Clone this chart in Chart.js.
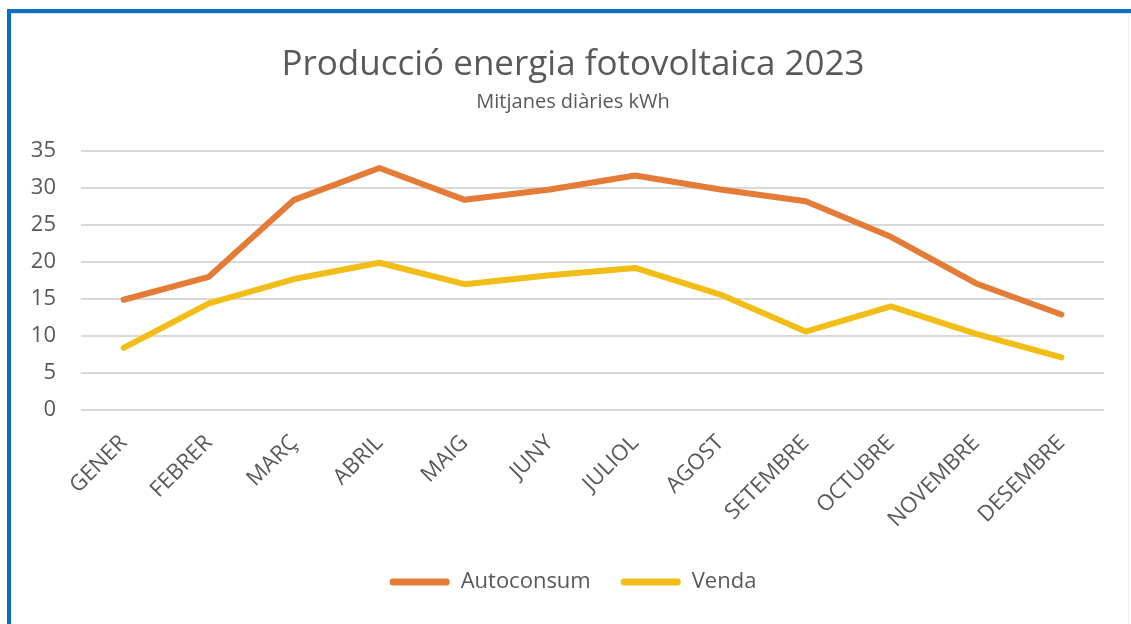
<!DOCTYPE html>
<html>
<head>
<meta charset="utf-8">
<script src="https://cdn.jsdelivr.net/npm/chart.js@4"></script>
<style>
  html, body { margin: 0; padding: 0; background: #fff; }
  body { width: 1131px; height: 624px; position: relative; overflow: hidden; }
  /* blue frame round the chart, only top and left edges are in view */
  .frame-top { position: absolute; left: 7px; top: 9px; width: 1124px; height: 4px; background: #0a70c4; box-shadow: 0 1px 1px #d8dde3; }
  .frame-left { position: absolute; left: 7px; top: 9px; width: 4px; height: 615px; background: #0a70c4; }
  .frame-right { position: absolute; left: 1128px; top: 13px; width: 1px; height: 611px; background: #eeeeee; }
  #chart { position: absolute; left: 0; top: 0; }
</style>
</head>
<body>
<div class="frame-top"></div>
<div class="frame-left"></div>
<div class="frame-right"></div>
<canvas id="chart" width="1131" height="624"></canvas>
<script>
// Chart data
const months = ['GENER', 'FEBRER', 'MARÇ', 'ABRIL', 'MAIG', 'JUNY', 'JULIOL', 'AGOST', 'SETEMBRE', 'OCTUBRE', 'NOVEMBRE', 'DESEMBRE'];
const autoconsum = [14.9, 18.0, 28.4, 32.7, 28.4, 29.8, 31.7, 29.8, 28.2, 23.4, 17.1, 12.9];
const venda = [8.4, 14.4, 17.7, 19.9, 17.0, 18.2, 19.2, 15.6, 10.6, 14.0, 10.3, 7.1];
const yMin = 0;
const yMax = 35;
const yStep = 5;

const gray_text = '#595959';
const font_family = '"Open Sans", Lato, sans-serif';

// title, subtitle and legend sit a bit right of the plot centre in the original
const shift_center = {
    id: 'shift_center',
    afterLayout: function(chart) {
        chart.boxes.forEach(function(b) {
            if (!b.axis) {
                b.left += 21;
                b.right += 21;
            }
        });
    }
};

function make_line(label, values, color) {
    return {
        label: label,
        data: values,
        borderColor: color,
        backgroundColor: color,
        borderWidth: 6,
        borderCapStyle: 'round',
        borderJoinStyle: 'round',
        pointRadius: 0,
        pointHoverRadius: 0,
        tension: 0,
        fill: false
    };
}

new Chart(document.getElementById('chart'), {
    type: 'line',
    data: {
        labels: months,
        datasets: [
            make_line('Autoconsum', autoconsum, '#E47B36'),
            make_line('Venda', venda, '#F3BD17')
        ]
    },
    plugins: [shift_center],
    options: {
        responsive: false,
        animation: false,
        layout: {
            padding: { top: 0, left: 0, right: 27, bottom: 21 }
        },
        plugins: {
            title: {
                display: true,
                text: 'Producció energia fotovoltaica 2023',
                color: gray_text,
                font: { family: font_family, size: 35, weight: 'normal' },
                padding: { top: 44, bottom: 4 }
            },
            subtitle: {
                display: true,
                text: 'Mitjanes diàries kWh',
                color: gray_text,
                font: { family: font_family, size: 20, weight: 'normal' },
                padding: { top: 0, bottom: 37 }
            },
            legend: {
                position: 'bottom',
                labels: {
                    color: gray_text,
                    font: { family: font_family, size: 22 },
                    boxWidth: 60,
                    boxHeight: 7,
                    useBorderRadius: true,
                    borderRadius: 3,
                    padding: 30,
                    generateLabels: function(chart) {
                        let items = Chart.defaults.plugins.legend.labels.generateLabels(chart);
                        items.forEach(function(it) { it.lineWidth = 0; });
                        return items;
                    }
                }
            },
            tooltip: { enabled: false }
        },
        scales: {
            x: {
                offset: true,
                grid: { display: false, drawTicks: false },
                border: { display: false },
                ticks: {
                    color: gray_text,
                    font: { family: font_family, size: 22 },
                    maxRotation: 45,
                    minRotation: 45,
                    autoSkip: false,
                    padding: 20
                },
                afterFit: function(scale) { scale.height = 131; }
            },
            y: {
                min: yMin,
                max: yMax,
                grid: { color: '#D9D9D9', lineWidth: 2, drawTicks: false },
                border: { display: false },
                ticks: {
                    stepSize: yStep,
                    color: gray_text,
                    font: { family: font_family, size: 22 },
                    padding: 25
                },
                afterFit: function(scale) { scale.width = 81; }
            }
        }
    }
});
</script>
</body>
</html>
